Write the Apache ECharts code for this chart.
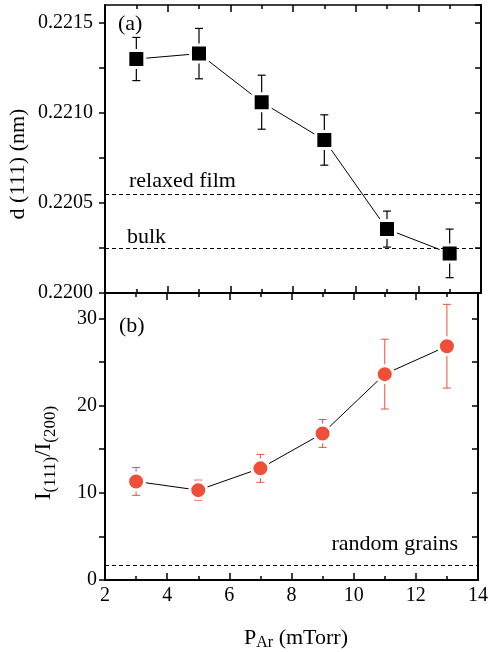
<!DOCTYPE html>
<html>
<head>
<meta charset="utf-8">
<script src="https://cdn.jsdelivr.net/npm/echarts@6/dist/echarts.min.js"></script>
<style>
  html, body { margin: 0; padding: 0; background: #fff; }
  #chart { width: 491px; height: 652px; }
</style>
</head>
<body>
<div id="chart"></div>
<script>
// Argon pressure during deposition (mTorr)
const pressure = [3, 5, 7, 9, 11, 13];

// (a) lattice spacing d(111) in nm, with error bars
const spacing    = [0.22130, 0.22133, 0.22106, 0.22085, 0.220355, 0.22022];
const spacingErr = [0.00012, 0.00014, 0.00015, 0.00014, 0.00010, 0.000135];

// (b) texture ratio I(111)/I(200), with error bars
const ratio    = [11.3, 10.3, 12.8, 16.8, 23.6, 26.8];
const ratioErr = [1.6, 1.15, 1.6, 1.6, 4.0, 4.8];

// Reference levels
const relaxedFilm  = 0.22055;
const bulkSpacing  = 0.22025;
const randomGrains = 1.65;

const FONT = 'Liberation Serif';
const RED = '#ef4f38';

const chart = echarts.init(document.getElementById('chart'), null, { renderer: 'canvas' });

// Text measuring for hand-laid subscripted titles
const measureCtx = document.createElement('canvas').getContext('2d');
function textWidth(str, size) {
  measureCtx.font = size + 'px "' + FONT + '"';
  return measureCtx.measureText(str).width;
}

// Builds a group of text runs centred on (x, y); each run may be shifted down (subscript)
function subscriptTitle(x, y, rotation, runs) {
  const widths = runs.map(r => textWidth(r.text, r.size));
  const total = widths.reduce((a, b) => a + b, 0);
  let cursor = -total / 2;
  const children = runs.map((r, i) => {
    const el = {
      type: 'text',
      x: cursor,
      y: r.dy || 0,
      style: {
        text: r.text, x: 0, y: 0, align: 'left', verticalAlign: 'middle',
        font: r.size + 'px "' + FONT + '"', fill: '#000'
      }
    };
    cursor += widths[i];
    return el;
  });
  return { type: 'group', x, y, rotation, children };
}

function errorBars(xIdx, yIdx, values, errs, color, width) {
  return {
    type: 'custom',
    xAxisIndex: xIdx,
    yAxisIndex: yIdx,
    silent: true,
    z: 2,
    encode: { x: 0, y: [1, 2] },
    data: pressure.map((p, i) => [p, values[i] - errs[i], values[i] + errs[i]]),
    renderItem: (params, api) => {
      const lo = api.coord([api.value(0), api.value(1)]);
      const hi = api.coord([api.value(0), api.value(2)]);
      const half = 4;
      const style = { stroke: color, lineWidth: width, fill: null };
      return {
        type: 'group',
        children: [
          { type: 'line', shape: { x1: lo[0], y1: lo[1], x2: hi[0], y2: hi[1] }, style },
          { type: 'line', shape: { x1: lo[0] - half, y1: lo[1], x2: lo[0] + half, y2: lo[1] }, style },
          { type: 'line', shape: { x1: hi[0] - half, y1: hi[1], x2: hi[0] + half, y2: hi[1] }, style }
        ]
      };
    }
  };
}

function xAxisDef(gridIndex, position, showLabels, lineWidth) {
  return {
    type: 'value',
    gridIndex,
    position,
    min: 2,
    max: 14,
    interval: 2,
    axisLine: { show: true, onZero: false, lineStyle: { color: '#000', width: lineWidth } },
    axisTick: { show: true, inside: true, length: 7, lineStyle: { color: '#000', width: 1.5 } },
    minorTick: { show: true, splitNumber: 2, length: 4, lineStyle: { color: '#000', width: 1.5 } },
    splitLine: { show: false },
    minorSplitLine: { show: false },
    axisLabel: {
      show: showLabels,
      margin: 6,
      color: '#000',
      fontFamily: FONT,
      fontSize: 20
    }
  };
}

function yAxisDef(gridIndex, position, min, max, interval, labelFn, margin) {
  const left = position === 'left';
  return {
    type: 'value',
    gridIndex,
    position,
    min,
    max,
    interval,
    axisLine: { show: true, onZero: false, lineStyle: { color: '#000', width: 2 } },
    axisTick: { show: true, inside: !left, length: 6, lineStyle: { color: '#000', width: 1.5 } },
    splitLine: { show: false },
    axisLabel: {
      show: left,
      showMaxLabel: false,
      margin,
      color: '#000',
      fontFamily: FONT,
      fontSize: 20,
      formatter: labelFn
    }
  };
}

const labelStyle = { color: '#000', fontFamily: FONT, fontSize: 22 };

const option = {
  animation: false,
  backgroundColor: '#fff',
  grid: [
    { left: 105, top: 5, width: 376, height: 288 },
    { left: 105, top: 293, width: 376, height: 287 }
  ],
  xAxis: [
    xAxisDef(0, 'bottom', false, 2),
    xAxisDef(0, 'top', false, 1.5),
    xAxisDef(1, 'bottom', true, 2),
    xAxisDef(1, 'top', false, 2)
  ],
  yAxis: [
    yAxisDef(0, 'left', 0.2200, 0.2216, 0.00025, v => {
      const k = Math.round(v * 20000);
      return k % 10 === 0 ? v.toFixed(4) : '';
    }, 12),
    yAxisDef(0, 'right', 0.2200, 0.2216, 0.00025, () => '', 10),
    yAxisDef(1, 'left', 0, 32.9, 5, v => {
      const k = Math.round(v);
      return k % 10 === 0 ? String(k) : '';
    }, 8),
    yAxisDef(1, 'right', 0, 32.9, 5, () => '', 8)
  ],
  series: [
    errorBars(0, 0, spacing, spacingErr, '#000', 1.2),
    {
      type: 'line',
      xAxisIndex: 0,
      yAxisIndex: 0,
      z: 3,
      data: pressure.map((p, i) => [p, spacing[i]]),
      symbol: 'rect',
      symbolSize: 17,
      lineStyle: { color: '#000', width: 1 },
      itemStyle: { color: '#000', borderColor: '#fff', borderWidth: 3 },
      markLine: {
        silent: true,
        symbol: 'none',
        precision: 6,
        lineStyle: { type: [4, 3], color: '#000', width: 1 },
        data: [
          {
            yAxis: relaxedFilm,
            name: 'relaxed film',
            label: { show: true, position: 'insideStartTop', formatter: '{b}', distance: 2, padding: [0, 0, 0, 22], ...labelStyle }
          },
          {
            yAxis: bulkSpacing,
            name: 'bulk',
            label: { show: true, position: 'insideStartTop', formatter: '{b}', distance: 0, padding: [0, 0, 0, 22], ...labelStyle }
          }
        ]
      }
    },
    errorBars(2, 2, ratio, ratioErr, RED, 1),
    {
      type: 'line',
      xAxisIndex: 2,
      yAxisIndex: 2,
      z: 3,
      data: pressure.map((p, i) => [p, ratio[i]]),
      symbol: 'circle',
      symbolSize: 17,
      lineStyle: { color: '#000', width: 1 },
      itemStyle: { color: RED, borderColor: '#fff', borderWidth: 3 },
      markLine: {
        silent: true,
        symbol: 'none',
        precision: 4,
        lineStyle: { type: [4, 3], color: '#000', width: 1 },
        data: [
          {
            yAxis: randomGrains,
            name: 'random grains',
            label: { show: true, position: 'insideEndTop', formatter: '{b}', distance: 10, padding: [0, 10, 0, 0], ...labelStyle }
          }
        ]
      }
    }
  ],
  graphic: [
    {
      type: 'text', x: 118, y: 24,
      style: { text: '(a)', x: 0, y: 0, verticalAlign: 'middle', font: '22px "Liberation Serif"', fill: '#000' }
    },
    {
      type: 'text', x: 119, y: 326,
      style: { text: '(b)', x: 0, y: 0, verticalAlign: 'middle', font: '22px "Liberation Serif"', fill: '#000' }
    },
    {
      type: 'text', x: 18, y: 164, rotation: Math.PI / 2,
      style: {
        text: 'd (111) (nm)', x: 0, y: 0, align: 'center', verticalAlign: 'middle',
        font: '22px "Liberation Serif"', fill: '#000'
      }
    },
    subscriptTitle(44, 453, Math.PI / 2, [
      { text: 'I', size: 23 },
      { text: '(111)', size: 17, dy: 7 },
      { text: '/I', size: 23 },
      { text: '(200)', size: 17, dy: 7 }
    ]),
    subscriptTitle(296, 638, 0, [
      { text: 'P', size: 22 },
      { text: 'Ar', size: 16, dy: 5 },
      { text: ' (mTorr)', size: 22 }
    ])
  ]
};

chart.setOption(option);
</script>
</body>
</html>
